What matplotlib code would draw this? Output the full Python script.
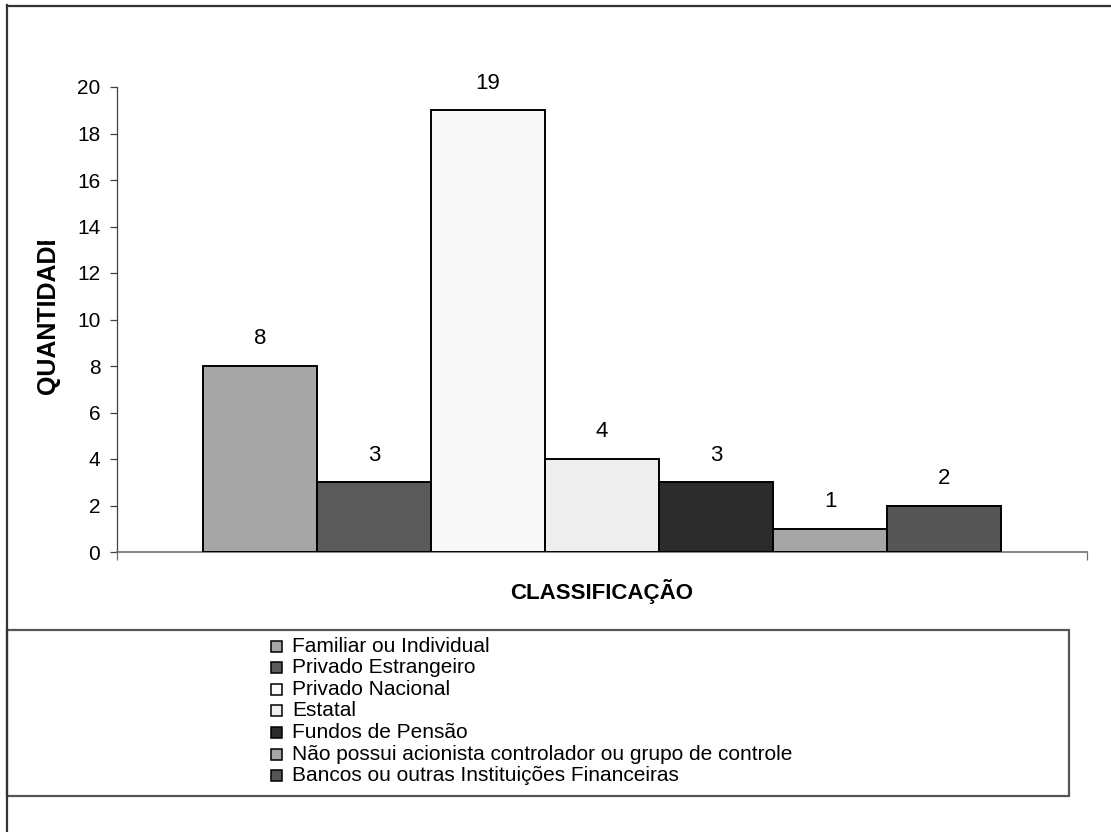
import matplotlib
matplotlib.use("Agg")
import matplotlib.pyplot as plt
from matplotlib.patches import Rectangle
from matplotlib.lines import Line2D
from matplotlib.transforms import Bbox

plt.rcParams['font.family'] = ['Liberation Sans', 'DejaVu Sans']

categories = [
    "Familiar ou Individual",
    "Privado Estrangeiro",
    "Privado Nacional",
    "Estatal",
    "Fundos de Pensão",
    "Não possui acionista controlador ou grupo de controle",
    "Bancos ou outras Instituições Financeiras",
]
values = [8, 3, 19, 4, 3, 1, 2]
colors = ["#a6a6a6", "#5a5a5a", "#f8f8f8", "#eeeeee", "#2b2b2b", "#a6a6a6", "#555555"]
yticks = list(range(0, 21, 2))
y_title = "QUANTIDADE"
x_title = "CLASSIFICAÇÃO"

W, H = 1111, 832
DPI = 100
fig = plt.figure(figsize=(W / DPI, H / DPI), dpi=DPI)


def fx(px):
    return px / W


def fy(py):
    return 1 - py / H


# chart-area frame (left and top edges)
fig.add_artist(Line2D([fx(6.5), fx(6.5)], [fy(5), 0], color='#333333', lw=1.6))
fig.add_artist(Line2D([fx(6.5), 1], [fy(5.5), fy(5.5)], color='#333333', lw=1.6))

# plot area
ax = fig.add_axes([fx(117), fy(552), fx(1087) - fx(117), fy(87) - fy(552)])
x = list(range(len(values)))
bars = ax.bar(x, values, width=1.0, color=colors, edgecolor='black',
              linewidth=1.4, zorder=3, label=categories)

ax.set_xlim(-1.254, len(values) - 1 + 1.254)
ax.set_ylim(0, 20)
ax.set_yticks(yticks)
ax.set_yticklabels([str(t) for t in yticks], fontsize=15)
ax.set_xticks(ax.get_xlim())
ax.set_xticklabels([])
ax.tick_params(axis='y', direction='out', length=5, width=0.9, pad=7, color='#404040')
ax.tick_params(axis='x', direction='out', length=6, width=0.9, color='#707070')
for s in ('top', 'right'):
    ax.spines[s].set_visible(False)
ax.spines['left'].set_color('#404040')
ax.spines['left'].set_linewidth(0.9)
ax.spines['bottom'].set_color('#707070')
ax.spines['bottom'].set_linewidth(1.2)

for xi, v in zip(x, values):
    ax.annotate(str(v), (xi, v), xytext=(0, 19.5), textcoords='offset points',
                ha='center', va='center', fontsize=16)

fig.text(fx(602), fy(592), x_title, ha='center', va='center',
         fontsize=16, fontweight='bold')

# y title, cut off at the top like the original chart
YT_SIZE = 18
yt = fig.text(fx(48), fy(394), y_title, rotation=90, ha='center', va='bottom',
              fontsize=YT_SIZE, fontweight='bold')
renderer = fig.canvas.get_renderer()
probe = fig.text(0, 0, y_title[:-1], fontsize=YT_SIZE, fontweight='bold')
part_w = probe.get_window_extent(renderer).width
probe.remove()
em = YT_SIZE * DPI / 72
clip_top = (H - 394) + part_w + 0.13 * em
yt.set_clip_box(Bbox([[0, 0], [W, clip_top]]))
yt.set_clip_on(True)

# legend box and entries
fig.add_artist(Rectangle((fx(7), fy(796)), fx(1069) - fx(7), fy(630) - fy(796),
                         transform=fig.transFigure, fill=False,
                         edgecolor='#555555', lw=1.6))
row0, row_step = 646, 21.6
sq = 11
for i, (lab, c) in enumerate(zip(categories, colors)):
    yc = row0 + i * row_step
    fig.add_artist(Rectangle((fx(271), fy(yc + sq / 2)), fx(sq), sq / H,
                             transform=fig.transFigure, facecolor=c,
                             edgecolor='black', lw=1.1))
    fig.text(fx(292), fy(yc), lab, ha='left', va='center', fontsize=15)

fig.savefig("out.png", dpi=DPI, facecolor='white')
